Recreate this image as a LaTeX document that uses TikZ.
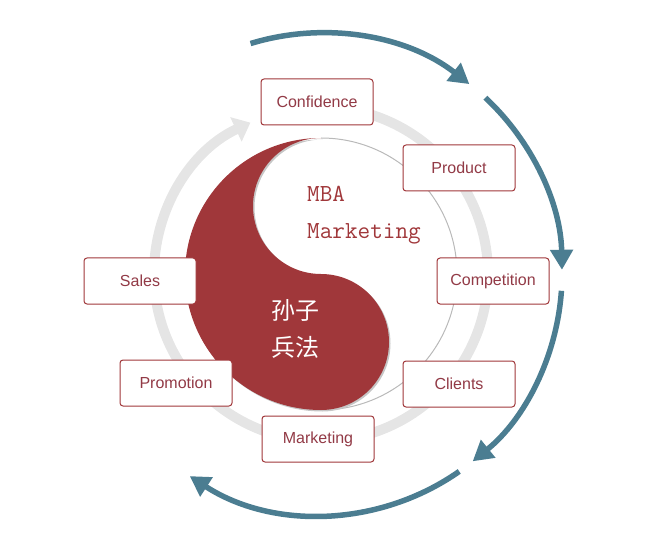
\documentclass[tikz,border=0pt]{standalone}
\usepackage{fontspec}
\setsansfont{Liberation Sans}
\newfontfamily\cjk{Noto Sans CJK SC}
\usetikzlibrary{arrows.meta}
\definecolor{yinred}{HTML}{A0373A}
\definecolor{boxtext}{HTML}{923A46}
\definecolor{cycleblue}{HTML}{4B7D91}
\definecolor{ringgray}{HTML}{E5E5E5}
\begin{document}
\begin{tikzpicture}[x=1pt, y=1pt,
        box/.style={draw=yinred, line width=1pt, rounded corners=3pt, fill=white,
            minimum width=112pt, minimum height=46pt, text=boxtext,
            font=\sffamily\fontsize{16}{19}\selectfont},
        cyclearrow/.style={draw=cycleblue, line width=5.5pt, -{Triangle[width=22pt,length=20pt]}},
        ringarrow/.style={draw=ringgray, line width=10pt, -{Triangle[width=26pt,length=16pt]}},
        mba/.style={inner sep=0pt, anchor=base west, text=yinred,
            font=\ttfamily\fontsize{24.5}{28}\selectfont},
        sunzi/.style={inner sep=0pt, text=white, font=\cjk\fontsize{24}{28}\selectfont}]
    \useasboundingbox (0,0) rectangle (650,-537);
    \coordinate (c) at (321,-274);
    % Gray ring
    \draw[ringarrow] (c) ++(95:167) arc (95:-245:167);
    % Blue cycle arrows
    \draw[cyclearrow] (c) ++(107:241) arc (107:52:241);
    \draw[cyclearrow] (c) ++(47:241) arc (47:1:241);
    \draw[cyclearrow] (c) ++(-4:241) arc (-4:-51:241);
    \draw[cyclearrow] (c) ++(-55:241) arc (-55:-123:241);
    % Yin yang
    \draw[gray!55, line width=1pt] (c) ++(0,136) arc (90:-90:136);
    \fill[gray!45] ([shift={(1.5,-1.5)}]c) ++(0,136) arc (90:270:136) arc (270:450:68) arc (270:90:68) -- cycle;
    \fill[yinred] (c) ++(0,136) arc (90:270:136) arc (270:450:68) arc (270:90:68) -- cycle;
    % Texts
    \node[mba] (mba) at (307,-202) {MBA};
    \node[mba] (mkt) at (307,-239) {Marketing};
    \node[sunzi] (sunzi) at (295,-310) {孙子};
    \node[sunzi] (bingfa) at (295,-347) {兵法};
    % Boxes
    \node[box] (confidence) at (317,-102) {Confidence};
    \node[box] (product) at (459,-168) {Product};
    \node[box] (competition) at (493,-281) {Competition};
    \node[box] (clients) at (459,-384) {Clients};
    \node[box] (marketing) at (318,-439) {Marketing};
    \node[box] (promotion) at (176,-383) {Promotion};
    \node[box] (sales) at (140,-281) {Sales};
\end{tikzpicture}
\end{document}
